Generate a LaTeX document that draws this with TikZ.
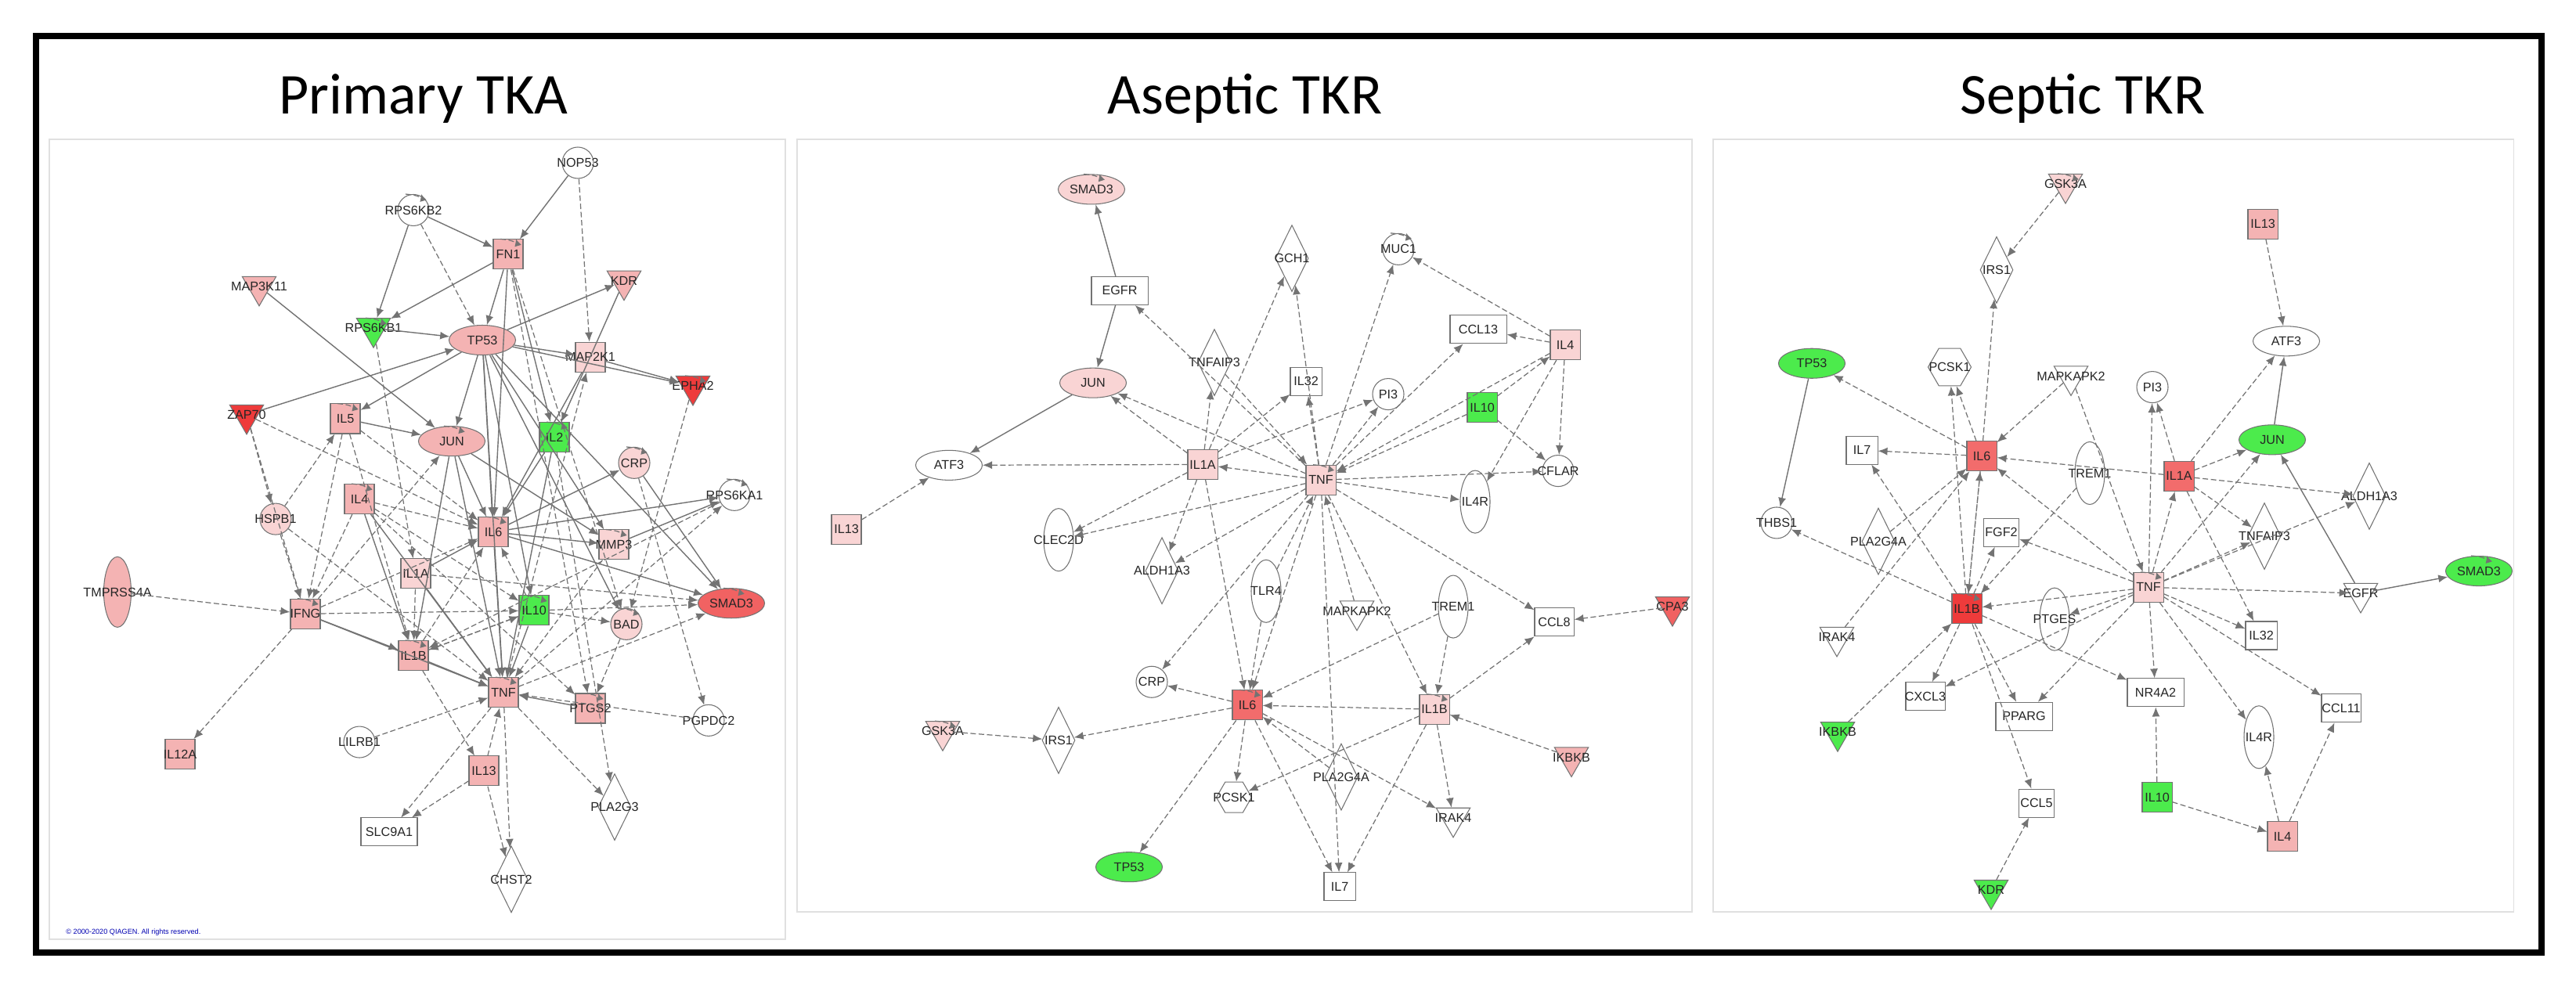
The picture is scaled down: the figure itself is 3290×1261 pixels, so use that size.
\documentclass[tikz,border=0pt]{standalone}
\usepackage{fontspec}
\setmainfont{Liberation Sans}
\newfontfamily\titlefont{Carlito}
\usetikzlibrary{shapes.geometric,arrows.meta}
\definecolor{pk}{HTML}{F4B3B3}
\definecolor{lp}{HTML}{F9D4D4}
\definecolor{rd}{HTML}{EE3B3B}
\definecolor{gn}{HTML}{4CEB4C}
\newcommand\gnode[4]{\node[#1,label={[lab]center:#4}] (#2) at (#3) {};}
\newcommand\lpp[1]{\draw[lk,-{Latex[length=0.9mm,width=0.9mm]}] ([xshift=-0.1cm]#1.north) .. controls +(-0.12,0.4) and +(0.12,0.4) .. ([xshift=0.1cm]#1.north);}
\begin{document}
\begin{tikzpicture}[x=0.01cm,y=-0.01cm,
  base/.style={draw=black!55,line width=0.3pt,inner sep=0pt,fill=white},
  sq/.style={base,rectangle,minimum size=0.38cm},
  rect/.style={base,rectangle,minimum width=0.72cm,minimum height=0.36cm},
  el/.style={base,ellipse,minimum width=0.85cm,minimum height=0.38cm},
  ci/.style={base,circle,minimum size=0.4cm},
  vel/.style={base,ellipse,minimum width=0.38cm,minimum height=0.8cm},
  dm/.style={base,diamond,minimum width=0.42cm,minimum height=0.85cm},
  tri/.style={base,regular polygon,regular polygon sides=3,shape border rotate=180,minimum size=0.5cm},
  hex/.style={base,regular polygon,regular polygon sides=6,minimum size=0.45cm},
  lab/.style={font=\fontsize{4.6}{5}\selectfont,text=black!85,inner sep=0pt},
  lk/.style={draw=black!55,line width=0.35pt,dash pattern=on 2pt off 1pt},
  da/.style={lk,-{Latex[length=1.2mm,width=1mm]}},
  sa/.style={draw=black!55,line width=0.4pt,-{Latex[length=1.2mm,width=1mm]}},
  ttl/.style={font=\titlefont\fontsize{21}{24}\selectfont}]
\fill[white] (0,0) rectangle (3290,1261);
\draw[line width=0.08cm] (46,46) rectangle (3246,1217);
\draw[black!12,line width=0.3pt] (63,178) rectangle (1003,1200);
\draw[black!12,line width=0.3pt] (1018,178) rectangle (2161,1165);
\draw[black!12,line width=0.3pt] (2188,178) rectangle (3210,1165);
\node[ttl] (t1) at (541,126) {Primary TKA};
\node[ttl] (t2) at (1590,126) {Aseptic TKR};
\node[ttl] (t3) at (2660,126) {Septic TKR};
\node[font=\fontsize{2.6}{3}\selectfont,text=blue!70!black,anchor=west] (cp) at (72,1191) {© 2000-2020 QIAGEN. All rights reserved.};
% ---------------- Panel 1 ----------------
\begin{scope}[shift={(0,-5.2)},yscale=1.025]
\gnode{ci}{aNOP}{738,208}{NOP53}
\gnode{ci}{aRPB2}{528,267}{RPS6KB2}
\gnode{sq,fill=pk}{aFN}{649,322}{FN1}
\gnode{tri,fill=pk}{aMAP}{331,362}{MAP3K11}
\gnode{tri,fill=pk}{aKDR}{797,355}{KDR}
\gnode{tri,fill=gn}{aRPB1}{477,414}{RPS6KB1}
\gnode{el,fill=pk}{aTP}{616,429}{TP53}
\gnode{sq,fill=lp}{aM2K}{754,450}{MAP2K1}
\gnode{tri,fill=rd}{aEPH}{885,486}{EPHA2}
\gnode{tri,fill=rd}{aZAP}{315,522}{ZAP70}
\gnode{sq,fill=pk}{aIL5}{441,527}{IL5}
\gnode{el,fill=pk}{aJUN}{577,555}{JUN}
\gnode{sq,fill=gn}{aIL2}{708,550}{IL2}
\gnode{ci,fill=lp}{aCRP}{810,582}{CRP}
\gnode{ci}{aRSK}{938,622}{RPS6KA1}
\gnode{sq,fill=pk}{aIL4}{459,627}{IL4}
\gnode{ci,fill=lp}{aHSP}{352,652}{HSPB1}
\gnode{sq,fill=pk}{aIL6}{630,668}{IL6}
\gnode{sq,fill=lp}{aMMP}{784,684}{MMP3}
\gnode{sq,fill=lp}{aIL1A}{531,720}{IL1A}
\node[base,ellipse,fill=pk,minimum width=0.35cm,minimum height=0.9cm,label={[lab]center:TMPRSS4A}] (aTMP) at (150,743) {};
\gnode{sq,fill=pk}{aIFN}{390,770}{IFNG}
\gnode{sq,fill=gn}{aIL10}{682,766}{IL10}
\gnode{el,fill=rd!80}{aSMAD}{934,757}{SMAD3}
\gnode{ci,fill=lp}{aBAD}{800,783}{BAD}
\gnode{sq,fill=pk}{aIL1B}{528,822}{IL1B}
\gnode{sq,fill=pk}{aTNF}{643,868}{TNF}
\gnode{sq,fill=pk}{aPTG}{754,888}{PTGS2}
\gnode{ci}{aPGP}{905,903}{PGPDC2}
\gnode{ci}{aLIL}{459,930}{LILRB1}
\gnode{sq,fill=pk}{aIL12}{230,945}{IL12A}
\gnode{sq,fill=pk}{aIL13}{618,966}{IL13}
\gnode{dm}{aPLA}{785,1011}{PLA2G3}
\gnode{rect}{aSLC}{497,1042}{SLC9A1}
\gnode{dm}{aCHS}{653,1101}{CHST2}
\foreach \n in {aRPB2,aFN,aRPB1,aEPH,aIL5,aJUN,aIL2,aCRP,aRSK,aIL4,aIL6,aIFN,aIL10,aSMAD,aBAD,aIL1B,aTNF,aPTG,aMMP} {\lpp{\n}}
\foreach \a/\b in {aNOP/aFN,aRPB2/aFN,aRPB2/aRPB1,aFN/aRPB1,aRPB1/aTP,aMAP/aJUN,aZAP/aTP,aTP/aKDR,aTP/aM2K,aTP/aEPH,aTP/aIL5,aTP/aJUN,aTP/aIL6,aTP/aIL10,aTP/aMMP,aTP/aBAD,aTP/aSMAD,aTP/aTNF,aFN/aTP,aFN/aIL6,aFN/aIL2,aKDR/aIL2,aM2K/aEPH,aM2K/aIL6,aIL5/aJUN,aJUN/aIL6,aJUN/aIL1B,aJUN/aTNF,aJUN/aMMP,aIL2/aTNF,aIL2/aIL6,aIL6/aCRP,aIL6/aTNF,aIL6/aMMP,aIL6/aRSK,aIL10/aTNF,aIL1B/aTNF,aIFN/aTNF,aIFN/aIL1B,aMMP/aRSK,aCRP/aSMAD,aIL6/aSMAD,aPTG/aTNF,aIL1A/aIL6,aIL1A/aTNF,aIL4/aTNF,aIL4/aIL1B} {\draw[sa] (\a) -- (\b);}
\foreach \a/\b in {aRPB2/aTP,aNOP/aM2K,aFN/aBAD,aFN/aPTG,aRPB1/aIL1A,aZAP/aHSP,aZAP/aIFN,aZAP/aIL6,aIL5/aIFN,aIL5/aIL1B,aIL5/aIL6,aHSP/aIFN,aHSP/aIL5,aHSP/aTNF,aIL4/aIFN,aIL4/aIL6,aIL4/aIL10,aIL4/aPTG,aTMP/aIFN,aIFN/aIL10,aIFN/aIL12,aIFN/aIL6,aIFN/aJUN,aIL1A/aIL1B,aIL1A/aSMAD,aIL10/aIL1B,aIL10/aIL6,aIL10/aSMAD,aIL10/aBAD,aIL1B/aIL6,aIL1B/aIL10,aLIL/aTNF,aIL13/aTNF,aIL13/aSLC,aIL1B/aIL13,aTNF/aSLC,aTNF/aCHS,aTNF/aPLA,aIL13/aCHS,aPGP/aTNF,aTNF/aSMAD,aTNF/aRSK,aTNF/aM2K,aEPH/aBAD,aRSK/aIL1B,aMMP/aTNF,aIL2/aPLA,aBAD/aPTG,aCRP/aPGP} {\draw[da] (\a) -- (\b);}
\end{scope}
% ---------------- Panel 2 ----------------
\begin{scope}[shift={(0,24.4)},yscale=0.899]
\gnode{el,fill=lp}{bSMAD}{1394,242}{SMAD3}
\gnode{rect}{bEGFR}{1430,386}{EGFR}
\gnode{dm}{bGCH}{1650,340}{GCH1}
\gnode{ci}{bMUC}{1786,327}{MUC1}
\gnode{rect}{bCCL13}{1888,441}{CCL13}
\gnode{sq,fill=lp}{bIL4}{1999,463}{IL4}
\gnode{dm}{bTNFA}{1551,488}{TNFAIP3}
\gnode{rect,minimum width=0.4cm}{bIL32}{1668,515}{IL32}
\gnode{ci}{bPI3}{1773,533}{PI3}
\gnode{sq,fill=gn}{bIL10}{1893,552}{IL10}
\gnode{el,fill=lp}{bJUN}{1396,517}{JUN}
\gnode{el}{bATF}{1212,634}{ATF3}
\gnode{sq,fill=lp}{bIL1A}{1536,633}{IL1A}
\gnode{sq,fill=lp}{bTNF}{1687,655}{TNF}
\gnode{ci}{bCFL}{1990,642}{CFLAR}
\gnode{vel}{bIL4R}{1884,686}{IL4R}
\gnode{sq,fill=lp}{bIL13}{1081,725}{IL13}
\gnode{vel}{bCLE}{1352,740}{CLEC2D}
\gnode{dm}{bALD}{1484,784}{ALDH1A3}
\gnode{vel}{bTLR}{1617,813}{TLR4}
\gnode{tri}{bMAPK}{1733,841}{MAPKAPK2}
\gnode{vel}{bTREM}{1856,835}{TREM1}
\gnode{rect,minimum width=0.5cm}{bCCL8}{1985,857}{CCL8}
\gnode{tri,fill=rd!80}{bCPA}{2136,835}{CPA3}
\gnode{ci}{bCRP}{1471,942}{CRP}
\gnode{sq,fill=rd!75}{bIL6}{1593,975}{IL6}
\gnode{sq,fill=lp}{bIL1B}{1832,981}{IL1B}
\gnode{tri,fill=lp}{bGSK}{1204,1012}{GSK3A}
\gnode{dm}{bIRS}{1352,1025}{IRS1}
\gnode{tri,fill=pk}{bIKK}{2007,1049}{IKBKB}
\gnode{dm}{bPLA}{1713,1077}{PLA2G4A}
\gnode{hex}{bPCSK}{1576,1106}{PCSK1}
\gnode{tri}{bIRAK}{1856,1135}{IRAK4}
\gnode{el,fill=gn}{bTP}{1442,1205}{TP53}
\gnode{rect,minimum width=0.4cm}{bIL7}{1711,1233}{IL7}
\foreach \n in {bSMAD,bMUC,bTNF,bIL6,bIL1B,bGSK} {\lpp{\n}}
\foreach \a/\b in {bEGFR/bSMAD,bEGFR/bJUN,bJUN/bATF} {\draw[sa] (\a) -- (\b);}
\foreach \a/\b in {bTNF/bEGFR,bIL13/bATF,bIL1A/bATF,bTNF/bJUN,bIL1A/bJUN,bIL1A/bTNFA,bIL1A/bGCH,bIL1A/bIL32,bIL1A/bPI3,bIL1A/bCLE,bIL1A/bALD,bIL1A/bIL6,bTNF/bIL1A,bTNF/bGCH,bTNF/bIL32,bTNF/bPI3,bTNF/bMUC,bTNF/bCCL13,bTNF/bIL4R,bTNF/bCFL,bTNF/bCLE,bTNF/bALD,bTNF/bCCL8,bTNF/bCRP,bTNF/bIL6,bTNF/bIL1B,bTNFA/bTNF,bMAPK/bTNF,bTLR/bTNF,bIL10/bTNF,bIL4/bTNF,bIL4/bMUC,bIL4/bCCL13,bIL4/bCFL,bIL4/bIL4R,bIL10/bIL4,bIL10/bCFL,bCPA/bCCL8,bIL1B/bCCL8,bIL6/bCRP,bIL6/bIRS,bGSK/bIRS,bIL6/bPCSK,bIL6/bTP,bIL6/bIL7,bIL1B/bIL6,bIL1B/bPCSK,bIL1B/bIL7,bIL1B/bIRAK,bIKK/bIL1B,bPLA/bIL6,bTLR/bIL6,bTREM/bIL6,bIL6/bIRAK,bTREM/bIL1B,bTNF/bIL7} {\draw[da] (\a) -- (\b);}
\end{scope}
% ---------------- Panel 3 ----------------
\begin{scope}[shift={(0,12.3)},yscale=0.9475]
\gnode{tri,fill=lp}{cGSK}{2638,235}{GSK3A}
\gnode{sq,fill=pk}{cIL13}{2890,289}{IL13}
\gnode{dm}{cIRS}{2550,351}{IRS1}
\gnode{el}{cATF}{2920,447}{ATF3}
\gnode{el,fill=gn}{cTP}{2314,477}{TP53}
\gnode{hex,minimum size=0.55cm}{cPCSK}{2490,482}{PCSK1}
\gnode{tri}{cMAPK}{2645,494}{MAPKAPK2}
\gnode{ci}{cPI3}{2749,509}{PI3}
\gnode{el,fill=gn}{cJUN}{2902,580}{JUN}
\gnode{rect,minimum width=0.4cm}{cIL7}{2378,594}{IL7}
\gnode{sq,fill=rd!75}{cIL6}{2531,602}{IL6}
\gnode{vel}{cTREM}{2669,625}{TREM1}
\gnode{sq,fill=rd!75}{cIL1A}{2783,629}{IL1A}
\gnode{dm}{cALD}{3026,656}{ALDH1A3}
\gnode{ci}{cTHB}{2269,692}{THBS1}
\gnode{dm}{cPLA}{2399,717}{PLA2G4A}
\gnode{rect,minimum width=0.45cm}{cFGF}{2556,705}{FGF2}
\gnode{dm}{cTNFA}{2892,710}{TNFAIP3}
\gnode{el,fill=gn}{cSMAD}{3166,757}{SMAD3}
\gnode{sq,fill=lp}{cTNF}{2744,779}{TNF}
\gnode{tri}{cEGFR}{3015,787}{EGFR}
\gnode{sq,fill=rd}{cIL1B}{2512,808}{IL1B}
\gnode{vel}{cPTG}{2624,822}{PTGES}
\gnode{tri}{cIRAK}{2346,846}{IRAK4}
\gnode{rect,minimum width=0.4cm}{cIL32}{2888,844}{IL32}
\gnode{rect,minimum width=0.5cm}{cCXC}{2459,926}{CXCL3}
\gnode{rect}{cNR}{2753,921}{NR4A2}
\gnode{rect}{cPPA}{2585,953}{PPARG}
\gnode{rect,minimum width=0.5cm}{cCCL11}{2990,942}{CCL11}
\gnode{vel}{cIL4R}{2885,981}{IL4R}
\gnode{tri,fill=gn}{cIKK}{2347,974}{IKBKB}
\gnode{rect,minimum width=0.45cm}{cCCL5}{2601,1070}{CCL5}
\gnode{sq,fill=gn}{cIL10}{2755,1062}{IL10}
\gnode{sq,fill=pk}{cIL4}{2915,1115}{IL4}
\gnode{tri,fill=gn}{cKDR}{2543,1187}{KDR}
\foreach \n in {cGSK,cSMAD,cTNF,cIL1B} {\lpp{\n}}
\foreach \a/\b in {cJUN/cATF,cTP/cTHB,cEGFR/cJUN,cEGFR/cSMAD} {\draw[sa] (\a) -- (\b);}
\foreach \a/\b in {cGSK/cIRS,cIL6/cIRS,cIL13/cATF,cIL1A/cATF,cIL6/cTP,cIL6/cPCSK,cIL1B/cPCSK,cMAPK/cIL6,cIL6/cIL7,cTNF/cIL6,cIL1A/cIL6,cIL6/cIL1B,cIL1B/cIL6,cPLA/cIL6,cIRAK/cIL6,cIL1B/cTHB,cIL1B/cFGF,cIL1B/cCXC,cIL1B/cPPA,cIL1B/cCCL5,cIL1B/cNR,cIKK/cIL1B,cTNF/cIL1B,cTNF/cPI3,cIL1A/cPI3,cTNF/cIL1A,cIL1A/cJUN,cTNF/cJUN,cIL1A/cALD,cIL1A/cTNFA,cTNF/cTNFA,cTNF/cALD,cTNF/cEGFR,cTNF/cIL32,cIL1A/cIL32,cTNF/cCCL11,cTNF/cIL4R,cTNF/cNR,cTNF/cPPA,cTNF/cCXC,cTNF/cPTG,cTNF/cFGF,cTREM/cIL1B,cMAPK/cTNF,cIL10/cNR,cIL10/cIL4,cIL4/cIL4R,cIL4/cCCL11,cKDR/cCCL5,cIL1B/cIL7} {\draw[da] (\a) -- (\b);}
\end{scope}
\end{tikzpicture}
\end{document}
